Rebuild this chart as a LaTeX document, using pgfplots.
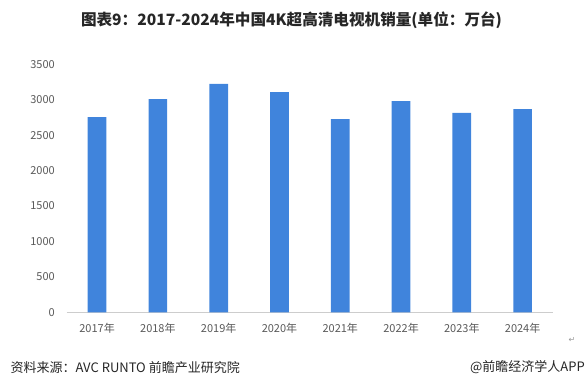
\documentclass[border=0pt]{standalone}
\usepackage{fontspec}
\setmainfont{Noto Sans CJK SC}
\newfontfamily\symfont{DejaVu Sans}
\usepackage{pgfplots}
\pgfplotsset{compat=1.18}
\definecolor{barblue}{RGB}{64,132,220}
\definecolor{ticktext}{RGB}{89,89,89}
\definecolor{axisgray}{RGB}{205,205,205}
\begin{document}
\begin{tikzpicture}[x=1bp,y=1bp]
\useasboundingbox (0,0) rectangle (585,387);
\node[font=\bfseries\fontsize{15.6bp}{18bp}\selectfont, text=black!85] at (291.5,366.3) {图表9：2017-2024年中国4K超高清电视机销量(单位：万台)};
\begin{axis}[
  at={(66.7bp,74.7bp)}, anchor=south west,
  scale only axis, width=486.3bp, height=248bp,
  xmin=-0.5, xmax=7.5, ymin=0, ymax=3500,
  xtick={0,...,7},
  xticklabels={2017年,2018年,2019年,2020年,2021年,2022年,2023年,2024年},
  ytick={0,500,...,3500},
  separate axis lines,
  axis x line*=bottom,
  axis y line*=left,
  x axis line style={draw=axisgray, -},
  y axis line style={draw=none, -},
  major tick length=0pt,
  /pgf/number format/assume math mode=true,
  /pgf/number format/1000 sep={},
  tick label style={font=\fontsize{11bp}{12bp}\selectfont, text=ticktext, inner sep=0pt},
  yticklabel style={anchor=east, xshift=-11.7bp},
  xticklabel style={anchor=north, yshift=-10.5bp},
  clip=false,
]
\addplot[ybar, bar width=18.7bp, fill=barblue, draw=none] coordinates {
(0,2756) (1,3010) (2,3222) (3,3109) (4,2728) (5,2982) (6,2813) (7,2869)};
\end{axis}
\node[anchor=west, font=\fontsize{13bp}{14bp}\selectfont, text=black!85] at (7,19.7) {资料来源：AVC RUNTO 前瞻产业研究院};
\node[anchor=east, font=\fontsize{13bp}{14bp}\selectfont, text=black!85, inner xsep=0pt] at (585,19.7) {@前瞻经济学人APP};
\node[font=\symfont\fontsize{8bp}{9bp}\selectfont, text=black!40] at (572,47) {↵};
\end{tikzpicture}
\end{document}
